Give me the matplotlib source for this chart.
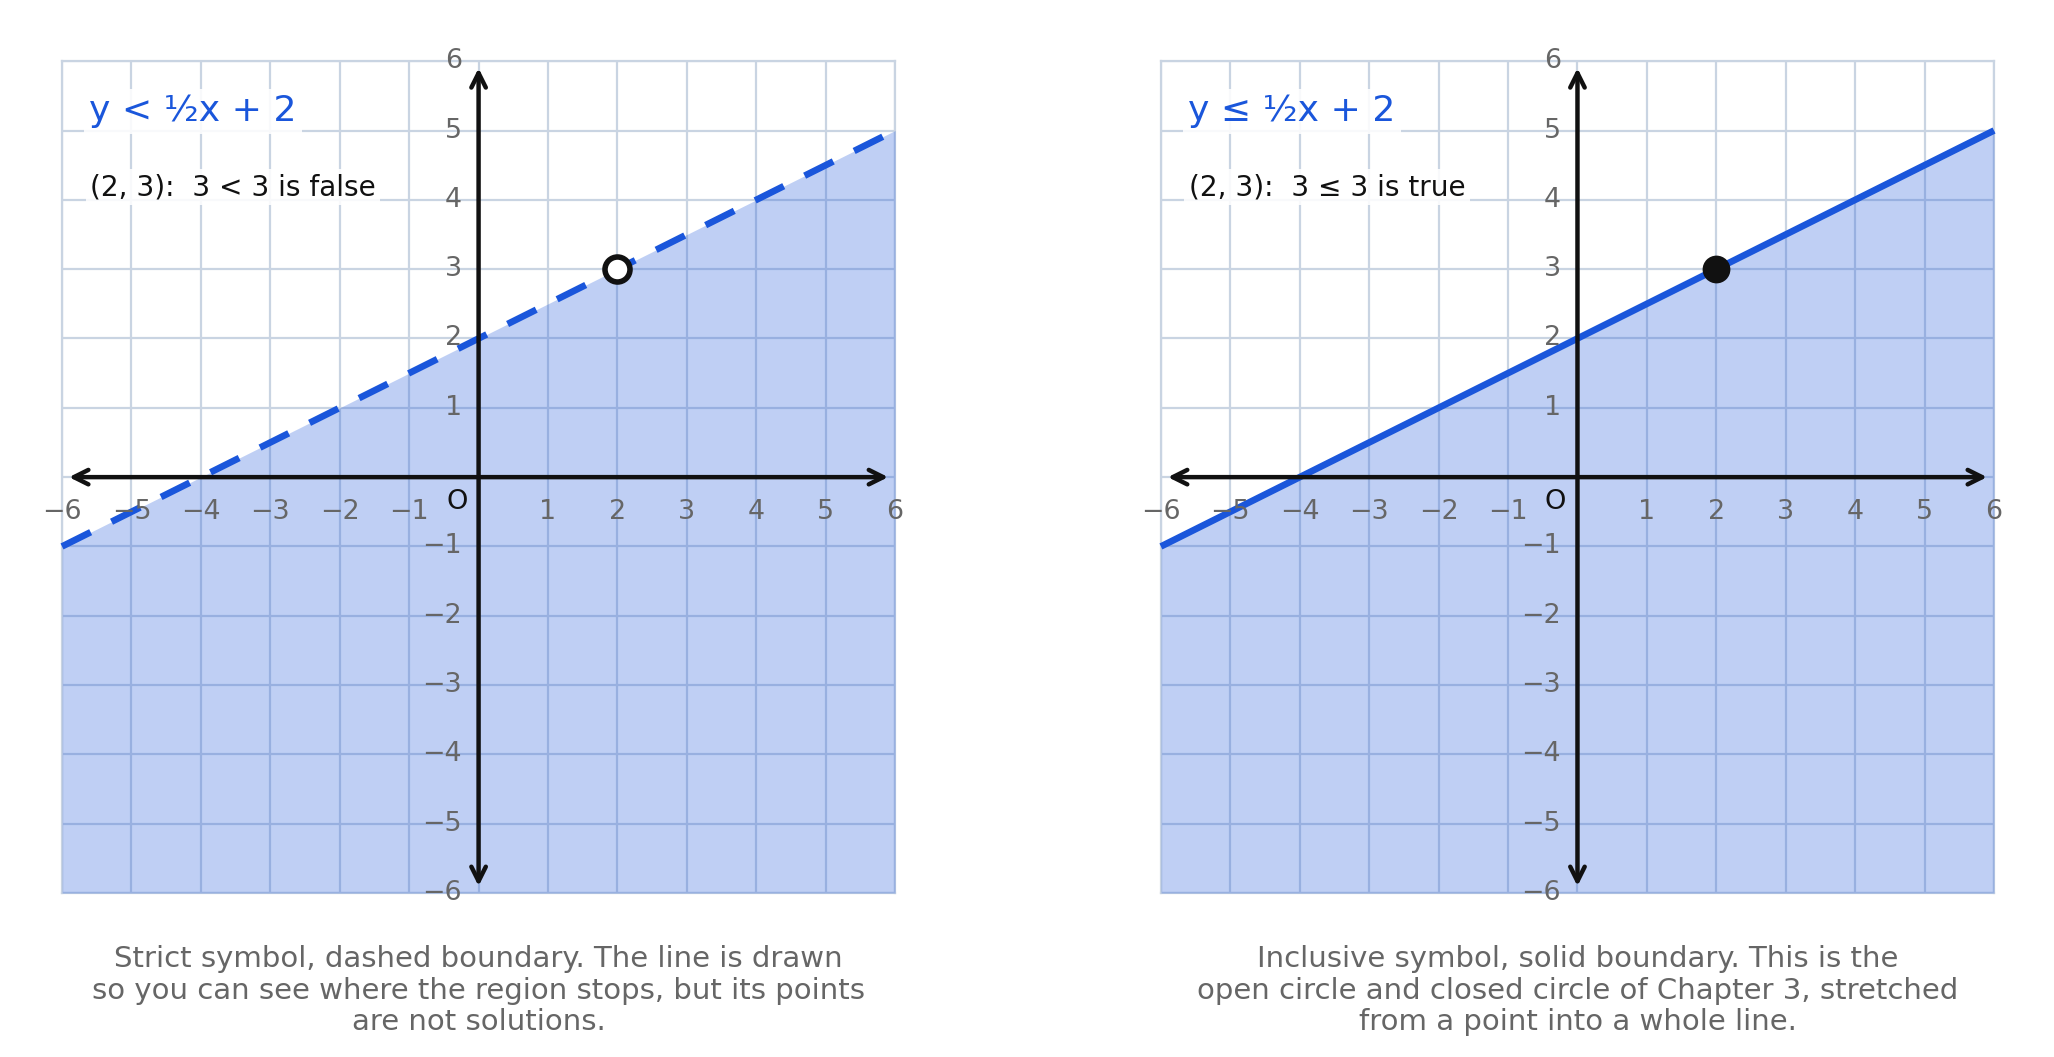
import matplotlib
matplotlib.use("Agg")
import matplotlib.pyplot as plt

# ---- data ----
boundary_x = [-6, 6]
boundary_y = [-1, 5]          # y = 1/2 x + 2 at x = -6 and x = 6
point_x = [2]
point_y = [3]
tick_values = [-6, -5, -4, -3, -2, -1, 0, 1, 2, 3, 4, 5, 6]
titles = ["y < ½x + 2", "y ≤ ½x + 2"]
checks = ["(2, 3):  3 < 3 is false", "(2, 3):  3 ≤ 3 is true"]
captions = [
    "Strict symbol, dashed boundary. The line is drawn\nso you can see where the region stops, but its points\nare not solutions.",
    "Inclusive symbol, solid boundary. This is the\nopen circle and closed circle of Chapter 3, stretched\nfrom a point into a whole line.",
]
strict = [True, False]

BLUE = "#1a56db"
GRID = "#c9d4e2"
TICK = "#666666"
INK = "#111111"

plt.rcParams["font.family"] = ["DejaVu Sans"]
fig = plt.figure(figsize=(10.27, 5.285), dpi=200)

lefts = [0.0302, 0.5652]
for i in range(2):
    ax = fig.add_axes([lefts[i], 0.1551, 0.4056, 0.787])
    ax.set_xlim(-6, 6)
    ax.set_ylim(-6, 6)
    ax.set_xticks(tick_values)
    ax.set_yticks(tick_values)
    ax.tick_params(length=0, labelbottom=False, labelleft=False)
    ax.set_axisbelow(True)
    ax.grid(True, color=GRID, lw=0.8)
    for s in ax.spines.values():
        s.set_color(GRID)
        s.set_linewidth(0.8)
        s.set_zorder(0.6)

    # shaded half-plane
    ax.fill_between(boundary_x, [-6, -6], boundary_y, color=BLUE, alpha=0.28,
                    lw=0, zorder=1)

    # boundary line
    if strict[i]:
        ax.plot(boundary_x, boundary_y, color=BLUE, lw=2.4,
                linestyle=(0, (4.8, 3.5)), zorder=3, clip_on=False,
                solid_capstyle="butt", dash_capstyle="butt")
    else:
        ax.plot(boundary_x, boundary_y, color=BLUE, lw=2.4, zorder=3,
                clip_on=False, solid_capstyle="butt")

    # coordinate axes with arrows
    arrow = dict(arrowstyle="<->", color=INK, lw=1.6, mutation_scale=13,
                 shrinkA=0, shrinkB=0)
    ax.annotate("", xy=(5.9, 0), xytext=(-5.9, 0), arrowprops=arrow, zorder=4)
    ax.annotate("", xy=(0, 5.9), xytext=(0, -5.9), arrowprops=arrow, zorder=4)

    # tick labels
    for v in tick_values:
        if v == 0:
            continue
        lab = str(v).replace("-", "\u2212")
        ax.text(v, -0.5, lab, ha="center", va="center", fontsize=9.7,
                color=TICK, zorder=5)
        ax.text(-0.24, v, lab, ha="right", va="center", fontsize=9.7,
                color=TICK, zorder=5)
    ax.text(-0.16, -0.36, "O", ha="right", va="center", fontsize=9.8,
            color=INK, zorder=5)

    # test point
    if strict[i]:
        ax.plot(point_x, point_y, "o", ms=9, mfc="white", mec=INK, mew=2.0,
                zorder=6)
    else:
        ax.plot(point_x, point_y, "o", ms=10, mfc=INK, mec=INK, mew=0,
                zorder=6)

    # labels
    ax.text(-5.61, 5.135, titles[i], ha="left", va="baseline", fontsize=13,
            color=BLUE, zorder=7,
            bbox=dict(boxstyle="square,pad=0.15", fc="white", ec="none",
                      alpha=0.88))
    ax.text(-5.6, 4.067, checks[i], ha="left", va="baseline", fontsize=10.1,
            color=INK, zorder=7,
            bbox=dict(boxstyle="square,pad=0.15", fc="white", ec="none",
                      alpha=0.88))

    # caption
    fig.text(lefts[i] + 0.4056 / 2, 0.106, captions[i], ha="center", va="top",
             fontsize=10.5, color=TICK, linespacing=1.17)

fig.savefig("out.png", dpi=200, facecolor="white")
